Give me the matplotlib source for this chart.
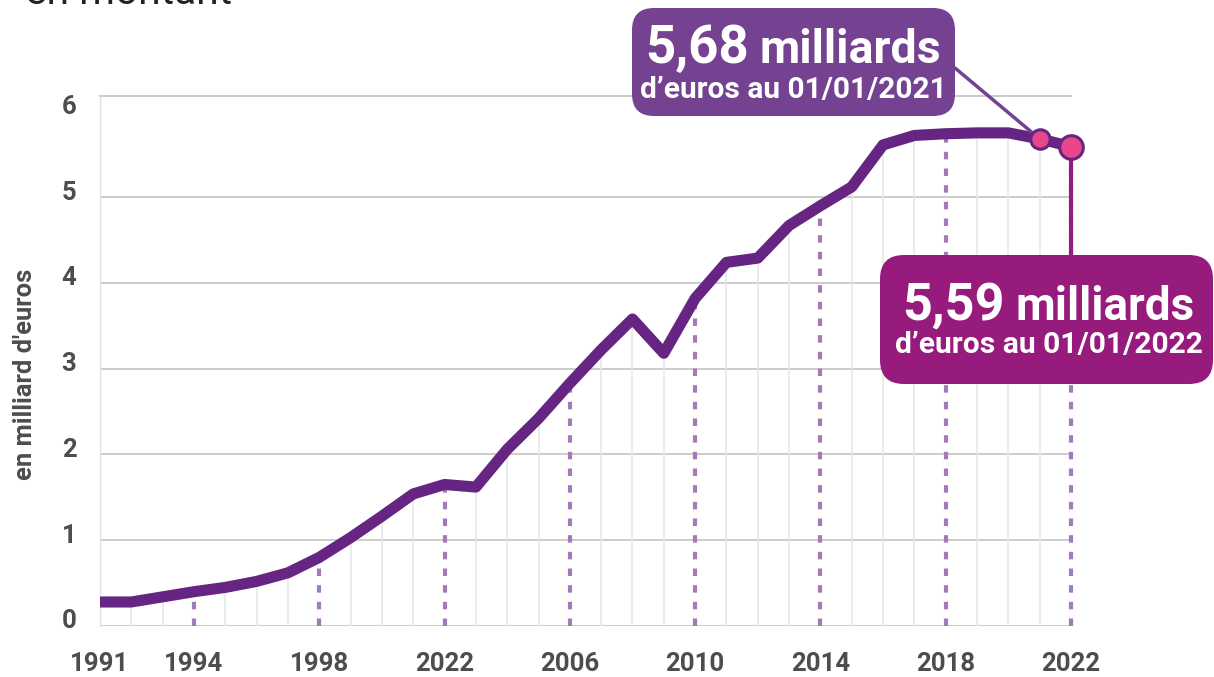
import matplotlib
matplotlib.use("Agg")
import matplotlib.pyplot as plt
from matplotlib.patches import FancyBboxPatch
from matplotlib.transforms import IdentityTransform, ScaledTranslation

# ---------------- data ----------------
years = list(range(1991, 2023))
values = [0.28, 0.28, 0.34, 0.40, 0.45, 0.52, 0.62, 0.80, 1.03, 1.28,
          1.54, 1.65, 1.62, 2.06, 2.42, 2.83, 3.22, 3.58, 3.18, 3.82,
          4.24, 4.29, 4.67, 4.90, 5.12, 5.61, 5.72, 5.74, 5.75, 5.75,
          5.68, 5.59]
tick_years = [1991, 1994, 1998, 2002, 2006, 2010, 2014, 2018, 2022]
tick_labels = ["1991", "1994", "1998", "2022", "2006", "2010", "2014", "2018", "2022"]
dash_years = [1994, 1998, 2002, 2006, 2010, 2014, 2018, 2022]
y_ticks = [0, 1, 2, 3, 4, 5, 6]
callout_2021 = ("5,68", "milliards", "d\u2019euros au 01/01/2021")
callout_2022 = ("5,59", "milliards", "d\u2019euros au 01/01/2022")

FONT = "Roboto"
LINE = "#662483"
GRID = "#c8c8c8"
TXT = "#4d4d4d"

plt.rcParams["font.family"] = [FONT, "DejaVu Sans"]

fig = plt.figure(figsize=(12.14, 6.77), dpi=100)
W, H = 1214, 677
ax = fig.add_axes([100 / W, (H - 626) / H, (1071 - 100) / W, (626 - 96) / H])
ax.set_xlim(1991, 2022)
ax.set_ylim(0, 6.18)

for s in ["right", "bottom"]:
    ax.spines[s].set_visible(False)
ax.spines["top"].set_color(GRID)
ax.spines["top"].set_linewidth(1.3)
ax.spines["left"].set_color("#e4e4e4")
ax.spines["left"].set_linewidth(1.0)

for lv in y_ticks[:-1]:
    ax.axhline(lv, color=GRID, lw=1.3, zorder=1)

val = dict(zip(years, values))
minor = [y for y in years if y not in dash_years and y != 1991]
ax.vlines(minor, 0, [val[y] for y in minor], color="#e6e6e6", lw=1.1, zorder=1)
ax.vlines(dash_years, 0, [val[y] for y in dash_years], color="#a57ab8",
          lw=3.0, linestyles=(0, (1.8, 2.2)), zorder=2, clip_on=False)

ax.plot(years, values, color=LINE, lw=8, solid_joinstyle="round",
        solid_capstyle="butt", zorder=5, clip_on=False)

# ticks
ax.set_xticks(tick_years)
ax.set_xticklabels(tick_labels, fontsize=18.5, fontweight="bold", color=TXT)
ax.set_yticks(y_ticks)
ax.set_yticklabels([str(v) for v in y_ticks], fontsize=18.5, fontweight="bold", color=TXT)
ax.tick_params(axis="x", length=0, pad=19)
ax.tick_params(axis="y", length=0, pad=17)
off = ScaledTranslation(0, 7 / 100, fig.dpi_scale_trans)
for lab in ax.get_yticklabels():
    lab.set_transform(lab.get_transform() + off)

renderer = fig.canvas.get_renderer()
ID = IdentityTransform()

ylab = fig.text(25 / W, 1 - 374 / H, "en milliard d'euros", rotation=90, ha="center",
                va="center", fontsize=14, fontweight="bold", color=TXT)
hh = ylab.get_window_extent(renderer).height
ylab.set_fontsize(14 * 212 / hh)


def fit(txt, x0, x1, yb, weight="bold", color="white", size=20, z=10):
    t = fig.text(x0, yb, txt, transform=ID, ha="left", va="baseline",
                 fontsize=size, fontweight=weight, color=color, zorder=z)
    w = t.get_window_extent(renderer).width
    t.set_fontsize(size * (x1 - x0) / w)
    return t


# title (cut off at the top in the source)
fit("en montant", 25, 232, H - 4, weight="normal", color="#222222", size=27)

# markers
ax.plot([2021], [val[2021]], "o", ms=14, mfc="#e8478b", mec=LINE, mew=2.2,
        zorder=8, clip_on=False)
ax.plot([2022], [val[2022]], "o", ms=17, mfc="#e8478b", mec=LINE, mew=2.2,
        zorder=8, clip_on=False)

# callout 2021
c1 = "#744291"
b1 = FancyBboxPatch((632, H - 116), 323, 108, boxstyle="round,pad=0,rounding_size=22",
                    transform=ID, fc=c1, ec="none", zorder=9)
fig.add_artist(b1)
ax.annotate("", xy=(2021, val[2021]), xycoords="data", xytext=(955, H - 68),
            textcoords="figure pixels",
            arrowprops=dict(arrowstyle="-", color=c1, lw=2.5, shrinkA=0, shrinkB=0),
            zorder=7)
fit(callout_2021[0], 645, 749, H - 63)
fit(callout_2021[1], 759, 940, H - 63)
fit(callout_2021[2], 640, 946, H - 98)

# callout 2022
c2 = "#961b7d"
b2 = FancyBboxPatch((880, H - 384), 333, 129, boxstyle="round,pad=0,rounding_size=24",
                    transform=ID, fc=c2, ec="none", zorder=9)
fig.add_artist(b2)
ax.annotate("", xy=(2022, val[2022]), xycoords="data", xytext=(1071, H - 256),
            textcoords="figure pixels",
            arrowprops=dict(arrowstyle="-", color=c2, lw=3, shrinkA=0, shrinkB=0),
            zorder=7)
fit(callout_2022[0], 902, 1004, H - 320)
fit(callout_2022[1], 1016, 1195, H - 320)
fit(callout_2022[2], 895, 1202, H - 353)

fig.savefig("out.png", dpi=100)
